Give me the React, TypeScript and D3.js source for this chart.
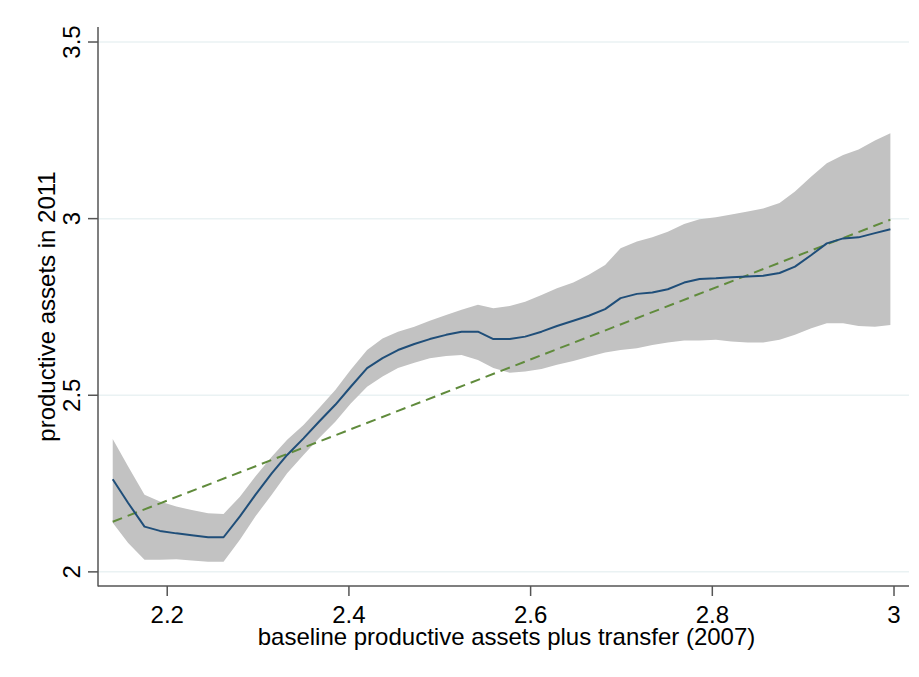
import * as d3 from "d3";

const W = 919;
const H = 677;
const MARGIN = { top: 27, right: 9, bottom: 91, left: 98 };

// local polynomial grid points
const xGrid = [
  2.14, 2.157, 2.175, 2.192, 2.21, 2.227, 2.245, 2.262, 2.28, 2.297,
  2.315, 2.332, 2.35, 2.367, 2.385, 2.402, 2.42, 2.437, 2.454, 2.472,
  2.489, 2.507, 2.524, 2.542, 2.559, 2.577, 2.594, 2.612, 2.629, 2.647,
  2.664, 2.682, 2.699, 2.717, 2.734, 2.751, 2.769, 2.786, 2.804, 2.821,
  2.839, 2.856, 2.874, 2.891, 2.909, 2.926, 2.944, 2.961, 2.979, 2.996,
];
const fitted = [
  2.262, 2.195, 2.128, 2.116, 2.109, 2.104, 2.098, 2.098, 2.157, 2.218,
  2.279, 2.331, 2.378, 2.425, 2.473, 2.524, 2.577, 2.605, 2.628, 2.645,
  2.659, 2.671, 2.68, 2.68, 2.659, 2.659, 2.666, 2.68, 2.696, 2.711,
  2.725, 2.744, 2.775, 2.787, 2.791, 2.8, 2.819, 2.829, 2.831, 2.834,
  2.836, 2.838, 2.846, 2.864, 2.897, 2.93, 2.944, 2.947, 2.959, 2.97,
];
const ciUpper = [
  2.376, 2.298, 2.218, 2.199, 2.185, 2.175, 2.166, 2.164, 2.213, 2.27,
  2.326, 2.374, 2.416, 2.463, 2.515, 2.572, 2.628, 2.661, 2.68, 2.694,
  2.711, 2.727, 2.742, 2.756, 2.746, 2.753, 2.765, 2.784, 2.803, 2.819,
  2.841, 2.869, 2.916, 2.935, 2.947, 2.963, 2.985, 2.998, 3.004, 3.012,
  3.02, 3.029, 3.044, 3.077, 3.119, 3.157, 3.18, 3.196, 3.221, 3.242,
];
const ciLower = [
  2.139, 2.082, 2.034, 2.034, 2.036, 2.032, 2.029, 2.029, 2.091, 2.157,
  2.218, 2.279, 2.331, 2.378, 2.425, 2.477, 2.524, 2.553, 2.577, 2.592,
  2.605, 2.611, 2.614, 2.6, 2.577, 2.564, 2.567, 2.574, 2.586, 2.597,
  2.609, 2.621, 2.628, 2.633, 2.642, 2.649, 2.655, 2.655, 2.657, 2.652,
  2.649, 2.649, 2.657, 2.671, 2.69, 2.704, 2.704, 2.696, 2.694, 2.699,
];

// linear fit endpoints
const linX = [2.14, 2.996];
const linY = [2.142, 2.997];

const xTicks = [2.2, 2.4, 2.6, 2.8, 3];
const yTicks = [2, 2.5, 3, 3.5];

const FONT = "'Liberation Sans', Arial, sans-serif";

export default function App() {
  const x = d3
    .scaleLinear()
    .domain([2.1238, 3.0165])
    .range([MARGIN.left, W - MARGIN.right - 1]);
  const y = d3
    .scaleLinear()
    .domain([1.96, 3.5425])
    .range([H - MARGIN.bottom, MARGIN.top]);

  const pts = xGrid.map((v, i) => ({ x: v, m: fitted[i], lo: ciLower[i], hi: ciUpper[i] }));

  const band = d3
    .area<(typeof pts)[number]>()
    .x((d) => x(d.x))
    .y0((d) => y(d.lo))
    .y1((d) => y(d.hi))(pts);

  const line = d3
    .line<(typeof pts)[number]>()
    .x((d) => x(d.x))
    .y((d) => y(d.m))(pts);

  const fitLine = d3
    .line<number>()
    .x((d) => x(d))
    .y((_, i) => y(linY[i]))(linX);

  const x0 = x.range()[0];
  const x1 = x.range()[1];
  const yBottom = y.range()[0];
  const yTop = y.range()[1];

  return (
    <svg
      width={W}
      height={H}
      style={{ position: "absolute", left: 0, top: 0, background: "#fff" }}
      fontFamily={FONT}
    >
      <rect width={W} height={H} fill="#fff" />
      {yTicks.map((t) => (
        <line key={t} x1={x0} x2={x1} y1={y(t)} y2={y(t)} stroke="#eaf2f3" strokeWidth={1.5} />
      ))}
      <path d={band ?? ""} fill="#c2c2c2" />
      <path d={fitLine ?? ""} fill="none" stroke="#608b3c" strokeWidth={2} strokeDasharray="10,6" />
      <path d={line ?? ""} fill="none" stroke="#1f4e79" strokeWidth={2} strokeLinejoin="round" />

      {/* y axis */}
      <line x1={x0} x2={x0} y1={yTop} y2={yBottom + 0.5} stroke="#555" strokeWidth={1.5} />
      {yTicks.map((t) => (
        <g key={t}>
          <line x1={x0 - 10} x2={x0} y1={y(t)} y2={y(t)} stroke="#555" strokeWidth={1.5} />
          <text
            transform={`translate(80,${y(t)}) rotate(-90)`}
            textAnchor="middle"
            fontSize={24}
            fill="#000"
          >
            {t}
          </text>
        </g>
      ))}
      <text
        transform={`translate(55,${(yTop + yBottom) / 2}) rotate(-90)`}
        textAnchor="middle"
        fontSize={24}
        fill="#000"
      >
        productive assets in 2011
      </text>

      {/* x axis */}
      <line x1={x0} x2={x1} y1={yBottom} y2={yBottom} stroke="#555" strokeWidth={1.5} />
      {xTicks.map((t) => (
        <g key={t}>
          <line x1={x(t)} x2={x(t)} y1={yBottom} y2={yBottom + 10} stroke="#555" strokeWidth={1.5} />
          <text x={x(t)} y={623} textAnchor="middle" fontSize={24} fill="#000">
            {t}
          </text>
        </g>
      ))}
      <text x={(x0 + x1) / 2 + 3} y={645} textAnchor="middle" fontSize={24} fill="#000">
        baseline productive assets plus transfer (2007)
      </text>
    </svg>
  );
}
